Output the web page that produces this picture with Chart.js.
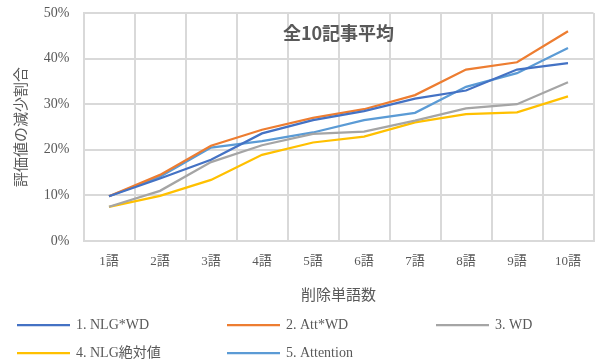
<!DOCTYPE html>
<html>
<head>
<meta charset="utf-8">
<script src="https://cdn.jsdelivr.net/npm/chart.js@4/dist/chart.umd.min.js"></script>
<style>
  html, body { margin: 0; padding: 0; background: #ffffff; }
  #wrap { width: 598px; height: 363px; position: relative; }
</style>
</head>
<body>
<div id="wrap"><canvas id="c" width="598" height="363"></canvas></div>
<script>
// Categories: number of deleted words
const categories = ['1語', '2語', '3語', '4語', '5語', '6語', '7語', '8語', '9語', '10語'];

// Reduction ratio of the evaluation score (%) per method
const nlgWd      = [9.8, 13.7, 17.8, 23.6, 26.5, 28.5, 31.2, 33.0, 37.6, 39.0];
const attWd      = [9.8, 14.5, 20.9, 24.4, 27.0, 28.9, 32.0, 37.6, 39.2, 46.0];
const wd         = [7.5, 11.0, 17.3, 21.0, 23.5, 24.0, 26.4, 29.1, 30.0, 34.8];
const nlgAbs     = [7.5, 9.9, 13.4, 18.9, 21.6, 22.9, 26.0, 27.8, 28.2, 31.7];
const attention  = [9.8, 14.1, 20.5, 21.9, 23.8, 26.5, 28.1, 33.8, 36.8, 42.3];

const seriesNames = ['1. NLG*WD', '2. Att*WD', '3. WD', '4. NLG絶対値', '5. Attention'];
const yTicks = [0, 10, 20, 30, 40, 50];

const chartTitle = '全10記事平均';
const xTitle = '削除単語数';
const yTitle = '評価値の減少割合';

const colors = ['#4472C4', '#ED7D31', '#A5A5A5', '#FFC000', '#5B9BD5'];
const textColor = '#595959';
const gridColor = '#d9d9d9';
const serifFont = "'Liberation Serif', 'Noto Sans CJK JP', serif";
const cjkFont = "'Noto Sans CJK JP', sans-serif";

const seriesData = [nlgWd, attWd, wd, nlgAbs, attention];

// Title drawn inside the plot area, centred horizontally
const innerTitle = {
  id: 'innerTitle',
  afterDraw(chart) {
    const { ctx, chartArea } = chart;
    ctx.save();
    ctx.font = "bold 18px " + cjkFont;
    ctx.fillStyle = textColor;
    ctx.textAlign = 'center';
    ctx.textBaseline = 'middle';
    ctx.fillText(chartTitle, (chartArea.left + chartArea.right) / 2, chartArea.top + 20);
    ctx.restore();
  }
};

// Three-column legend below the x axis
const gridLegend = {
  id: 'gridLegend',
  afterDraw(chart) {
    const { ctx } = chart;
    const colX = [17, 227, 436];
    const rowY = [325, 353];
    const lineLen = 53;
    ctx.save();
    ctx.font = "14px " + serifFont;
    ctx.textBaseline = 'middle';
    ctx.textAlign = 'left';
    chart.data.datasets.forEach((ds, i) => {
      const x = colX[i % 3];
      const y = rowY[Math.floor(i / 3)];
      ctx.strokeStyle = ds.borderColor;
      ctx.lineWidth = 2.25;
      ctx.beginPath();
      ctx.moveTo(x, y);
      ctx.lineTo(x + lineLen, y);
      ctx.stroke();
      ctx.fillStyle = textColor;
      ctx.fillText(ds.label, x + lineLen + 6, y);
    });
    ctx.restore();
  }
};

new Chart(document.getElementById('c'), {
  type: 'line',
  data: {
    labels: categories,
    datasets: seriesNames.map((name, i) => ({
      label: name,
      data: seriesData[i],
      borderColor: colors[i],
      backgroundColor: colors[i],
      borderWidth: 2.25,
      pointRadius: 0,
      pointHoverRadius: 0,
      tension: 0,
      fill: false
    }))
  },
  options: {
    responsive: false,
    animation: false,
    events: [],
    layout: { padding: { top: 13, right: 4.5, bottom: 53, left: 0 } },
    plugins: {
      legend: { display: false },
      title: { display: false },
      tooltip: { enabled: false }
    },
    scales: {
      x: {
        offset: true,
        grid: { offset: true, color: gridColor, lineWidth: 2, drawTicks: false },
        border: { color: gridColor, width: 2 },
        ticks: {
          padding: 13,
          color: textColor,
          font: { family: serifFont, size: 13 },
          maxRotation: 0,
          autoSkip: false
        },
        title: {
          display: true,
          text: xTitle,
          color: textColor,
          font: { family: cjkFont, size: 15 },
          padding: { top: 4, bottom: 7 }
        },
        afterFit(scale) { scale.height = 69; }
      },
      y: {
        min: 0,
        max: 50,
        afterBuildTicks(scale) { scale.ticks = yTicks.map(v => ({ value: v })); },
        grid: { color: gridColor, lineWidth: 2, drawTicks: false },
        border: { color: gridColor, width: 2 },
        ticks: {
          padding: 14,
          color: textColor,
          font: { family: serifFont, size: 14 },
          callback: v => v + '%'
        },
        title: {
          display: true,
          text: yTitle,
          color: textColor,
          font: { family: cjkFont, size: 15 },
          padding: { top: 11, bottom: 0 }
        },
        afterFit(scale) {
          scale.width = 83.5;
          scale.paddingTop = 8;
          scale.paddingBottom = 8;
        }
      }
    }
  },
  plugins: [innerTitle, gridLegend]
});
</script>
</body>
</html>
